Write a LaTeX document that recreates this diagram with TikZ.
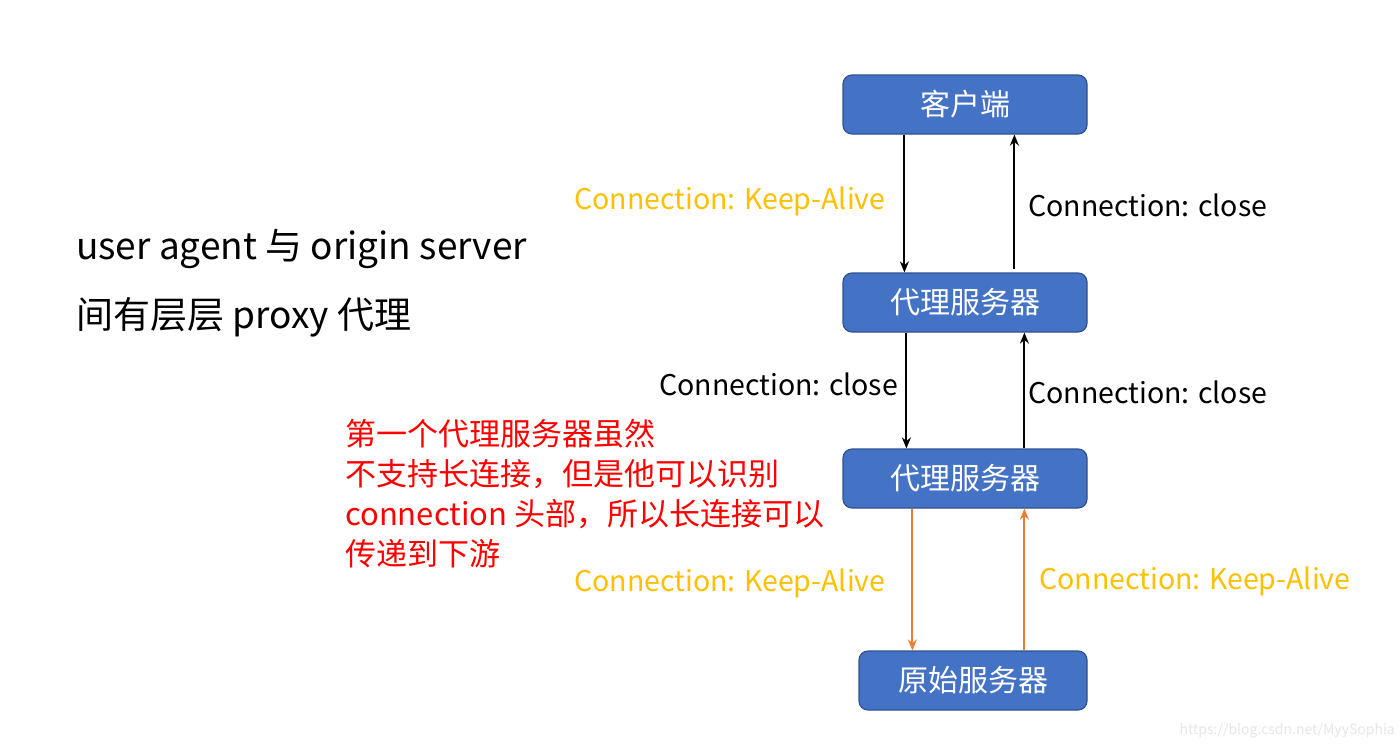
\documentclass[tikz,border=0pt]{standalone}
\usepackage{fontspec}
\setmainfont{Noto Sans CJK SC}
\usetikzlibrary{arrows.meta}
\definecolor{boxfill}{HTML}{4472C4}
\definecolor{boxline}{HTML}{2F528F}
\definecolor{kaorange}{HTML}{ED7D31}
\definecolor{kayellow}{HTML}{FFC000}
\definecolor{redtxt}{HTML}{FF0000}
\definecolor{wmgray}{HTML}{E6E6E6}
\tikzset{
  box/.style={draw=boxline, line width=1.2pt, fill=boxfill, rounded corners=9pt,
    text=white, font=\fontsize{30}{34}\selectfont, minimum height=59pt, inner sep=0pt},
  lbl/.style={inner sep=0pt, anchor=west, font=\fontsize{28.5}{30}\selectfont},
  ka/.style={lbl, text=kayellow},
  cl/.style={lbl, text=black},
  blk/.style={line width=2pt, draw=black, -{Stealth[length=11pt,width=9pt]}},
  org/.style={line width=2pt, draw=kaorange, -{Stealth[length=11pt,width=9pt]}},
  big/.style={inner sep=0pt, anchor=west, font=\fontsize{37}{40}\selectfont},
  red/.style={inner sep=0pt, anchor=north west, align=left, text=redtxt,
    font=\fontsize{31}{40}\selectfont},
}
\begin{document}
\begin{tikzpicture}[x=1pt,y=-1pt]
\useasboundingbox[fill=white] (0,0) rectangle (1400,747);
\node[box, minimum width=244pt] (c) at (965,104.5) {客户端};
\node[box, minimum width=244pt] (p1) at (965,302.5) {代理服务器};
\node[box, minimum width=244pt] (p2) at (965,478.5) {代理服务器};
\node[box, minimum width=228pt] (o) at (973,680.5) {原始服务器};

\draw[blk] ([xshift=62pt]c.south west) -- ([xshift=62pt]p1.north west);
\draw[blk] ([xshift=172pt]p1.north west) ++(0,-3) -- ([xshift=172pt]c.south west);
\draw[blk] ([xshift=64pt]p1.south west) -- ([xshift=64pt]p2.north west);
\draw[blk] ([xshift=182pt]p2.north west) -- ([xshift=182pt]p1.south west);
\draw[org] ([xshift=70pt]p2.south west) -- ([xshift=54pt]o.north west);
\draw[org] ([xshift=166pt]o.north west) -- ([xshift=182pt]p2.south west);

\node[ka] (l1) at (574,201) {Connection: Keep-Alive};
\node[cl] (l2) at (1028,205) {Connection: close};
\node[cl] (l3) at (659,384) {Connection: close};
\node[cl] (l4) at (1028,392) {Connection: close};
\node[ka] (l5) at (574,583) {Connection: Keep-Alive};
\node[ka] (l6) at (1039,581) {Connection: Keep-Alive};

\node[big] (t1) at (76,249) {user agent 与 origin server};
\node[big] (t2) at (76,317) {间有层层 proxy 代理};

\node[red] (r) at (345,419) {第一个代理服务器虽然\\不支持长连接，但是他可以识别\\connection 头部，所以长连接可以\\传递到下游};

\node[inner sep=0pt, anchor=east, text=wmgray, font=\fontsize{14}{16}\selectfont] (wm) at (1395,731) {https://blog.csdn.net/MyySophia};
\end{tikzpicture}
\end{document}
